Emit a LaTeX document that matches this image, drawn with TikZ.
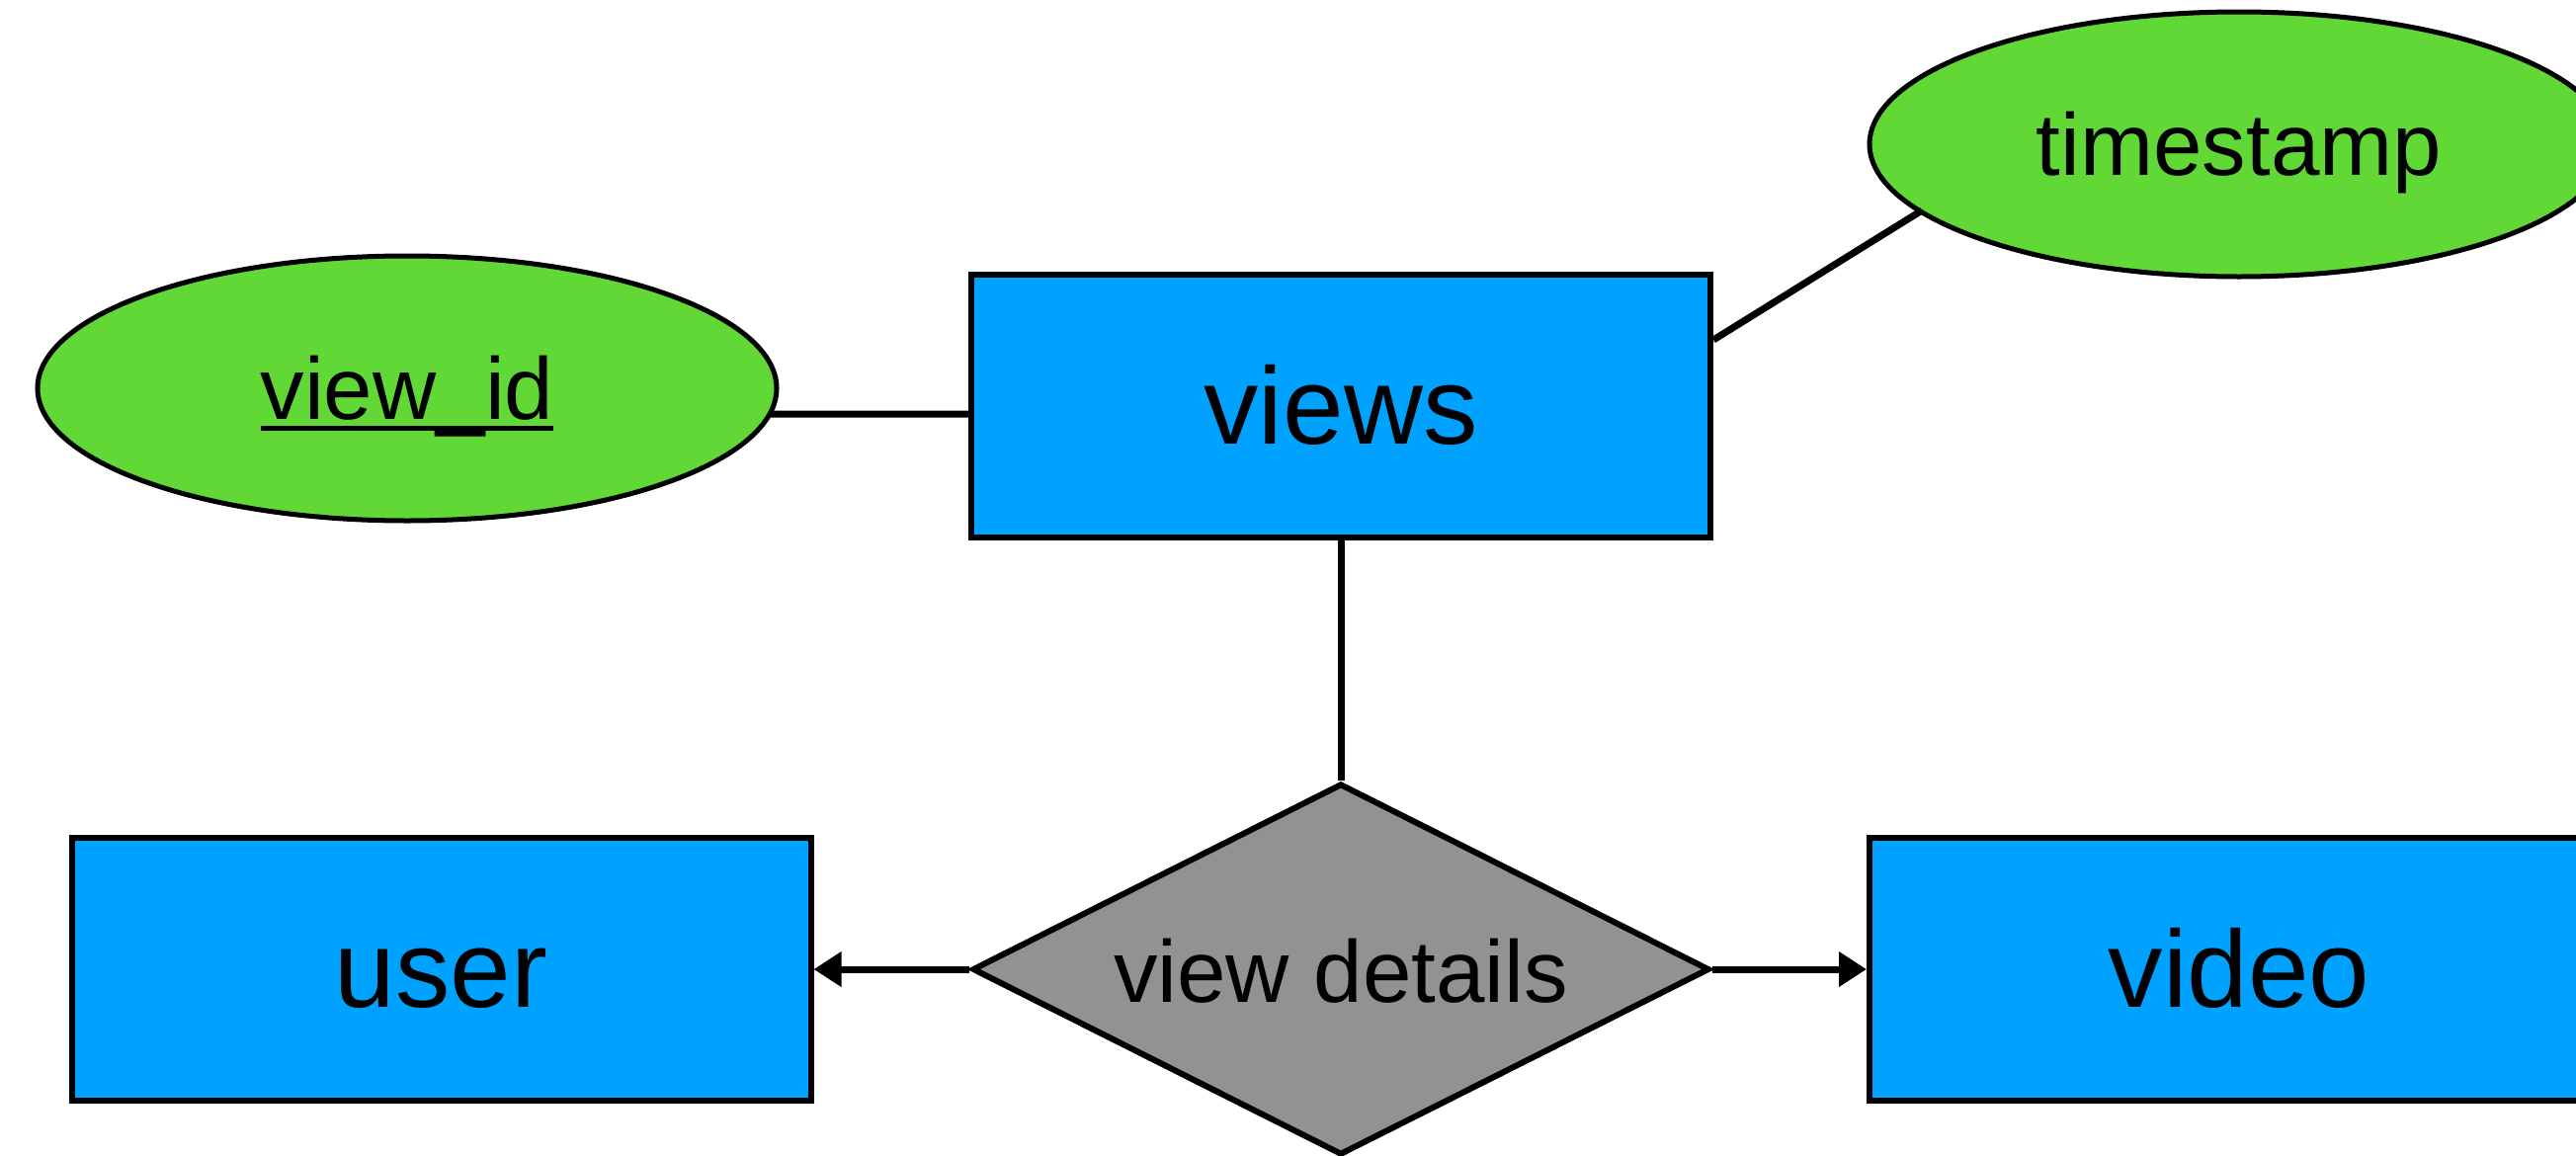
\documentclass[tikz,border=0pt]{standalone}
\usepackage{fontspec}
\setmainfont{Liberation Sans}
\usetikzlibrary{shapes.geometric,arrows.meta}
\definecolor{entblue}{HTML}{00A2FF}
\definecolor{attrgreen}{HTML}{61D836}
\definecolor{relgrey}{HTML}{929292}
\newcommand\keyul[1]{\setbox0\hbox{#1}\rlap{\rule[-0.12cm]{\wd0}{0.05cm}}\box0}
\tikzset{
  entity/.style={draw=black, fill=entblue, line width=0.06cm, rectangle, minimum width=7.48cm, minimum height=2.66cm, inner sep=0pt, text height=0.76cm, text depth=0cm, font=\fontsize{31.5}{36}\selectfont},
  attr/.style={draw=black, fill=attrgreen, line width=0.05cm, ellipse, minimum width=7.48cm, minimum height=2.68cm, inner sep=0pt, text height=0.84cm, text depth=0.22cm, font=\fontsize{25.3}{30}\selectfont},
  rel/.style={draw=black, fill=relgrey, line width=0.06cm, diamond, minimum width=7.46cm, minimum height=3.76cm, inner sep=0pt, shape aspect=2, text height=0.66cm, text depth=0cm, font=\fontsize{25.3}{30}\selectfont},
  link/.style={line width=0.07cm},
  arrowlink/.style={line width=0.07cm, -{Triangle[length=0.28cm, width=0.34cm]}}
}
\begin{document}
\begin{tikzpicture}
\useasboundingbox (0,0) rectangle (26.07,-11.69);
\node[attr] (viewid) at (4.12,-3.93) {\keyul{view\_id}};
\node[entity] (views) at (13.57,-4.11) {views};
\node[attr] (timestamp) at (22.66,-1.46) {timestamp};
\node[entity] (user) at (4.465,-9.81) {user};
\node[entity] (video) at (22.66,-9.81) {video};
\node[rel] (details) at (13.57,-9.81) {view details};
\draw[link] ([yshift=-0.08cm]views.west) -- ([xshift=3.66cm,yshift=-0.26cm]viewid.center);
\draw[link] ([yshift=0.67cm]views.east) -- ([xshift=-3.21cm,yshift=-0.67cm]timestamp.center);
\draw[link] (views.south) -- (details.north);
\draw[arrowlink] (details.west) -- (user.east);
\draw[arrowlink] (details.east) -- (video.west);
\end{tikzpicture}
\end{document}
